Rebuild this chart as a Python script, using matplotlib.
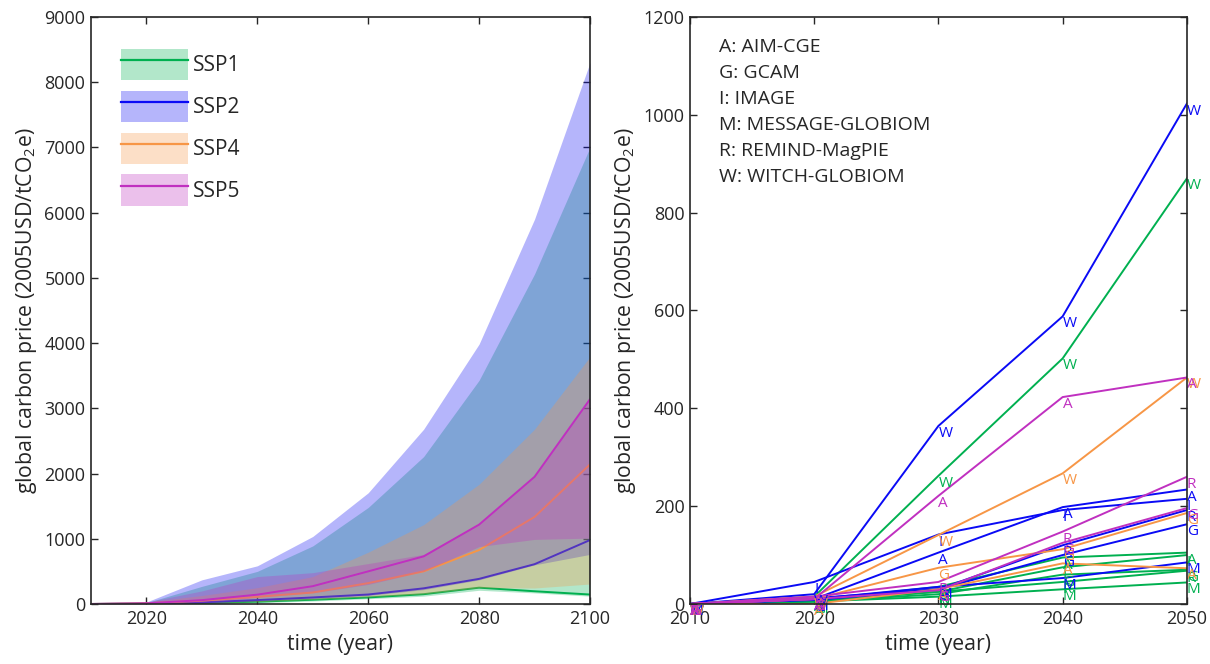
import matplotlib
matplotlib.use('Agg')
import matplotlib.pyplot as plt
from matplotlib.patches import Patch
from matplotlib.lines import Line2D

plt.rcParams['font.family'] = ['Open Sans', 'DejaVu Sans']
plt.rcParams['mathtext.fontset'] = 'custom'
plt.rcParams['mathtext.rm'] = 'Open Sans'
plt.rcParams['mathtext.it'] = 'Open Sans'

# ---- left panel: ranges and medians per SSP ----
years = [2010, 2020, 2030, 2040, 2050, 2060, 2070, 2080, 2090, 2100]

ssp1_med = [0, 5, 15, 35, 65, 100, 150, 250, 195, 145]
ssp1_lo = [0, 2, 8, 20, 45, 80, 120, 210, 170, 120]
ssp1_hi = [0, 20, 270, 500, 890, 1480, 2260, 3430, 5060, 7000]

ssp2_med = [0, 5, 25, 60, 100, 145, 240, 385, 610, 980]
ssp2_lo = [0, 3, 20, 50, 85, 130, 220, 370, 600, 760]
ssp2_hi = [0, 30, 370, 585, 1035, 1705, 2680, 3985, 5900, 8300]

ssp4_med = [0, 10, 50, 110, 176, 320, 500, 827, 1335, 2140]
ssp4_lo = [0, 3, 15, 35, 70, 110, 155, 250, 245, 306]
ssp4_hi = [0, 30, 130, 250, 420, 794, 1217, 1836, 2680, 3790]

ssp5_med = [0, 10, 59, 143, 273, 500, 730, 1217, 1950, 3140]
ssp5_lo = [0, 5, 30, 100, 170, 300, 500, 880, 990, 1010]
ssp5_hi = [0, 30, 200, 420, 480, 620, 760, 1230, 1960, 3150]

ssp_names = ['SSP1', 'SSP2', 'SSP4', 'SSP5']
colors = ['#00b050', '#0a0af5', '#f79646', '#c030c0']

# ---- right panel: individual models (2010-2050) ----
years_r = [2010, 2020, 2030, 2040, 2050]

r_ssp1 = {'W': [0, 15, 262, 502, 870],
          'A': [0, 8, 35, 95, 105],
          'I': [0, 5, 25, 75, 100],
          'G': [0, 5, 20, 60, 70],
          'M': [0, 5, 15, 30, 44],
          'R': [0, 8, 25, 45, 68]}
r_ssp2 = {'W': [0, 20, 364, 588, 1023],
          'A': [0, 10, 105, 198, 234],
          'I': [0, 45, 142, 192, 215],
          'G': [0, 8, 30, 100, 163],
          'M': [0, 10, 35, 53, 85],
          'R': [0, 12, 30, 120, 192]}
r_ssp4 = {'W': [0, 15, 141, 267, 463],
          'G': [0, 10, 74, 112, 186],
          'A': [0, 0, 30, 83, 73]}
r_ssp5 = {'A': [0, 10, 221, 423, 463],
          'R': [0, 15, 45, 148, 260],
          'G': [0, 10, 28, 125, 196]}

model_names = ['A: AIM-CGE', 'G: GCAM', 'I: IMAGE', 'M: MESSAGE-GLOBIOM',
               'R: REMIND-MagPIE', 'W: WITCH-GLOBIOM']

txt = '#262626'
ylab = 'global carbon price (2005USD/tCO$_2$e)'

fig = plt.figure(figsize=(12.1, 6.64), dpi=100)
ax1 = fig.add_axes([0.0752, 0.0904, 0.4124, 0.884])
ax2 = fig.add_axes([0.5702, 0.0904, 0.4107, 0.884])

meds = [ssp1_med, ssp2_med, ssp4_med, ssp5_med]
los = [ssp1_lo, ssp2_lo, ssp4_lo, ssp5_lo]
his = [ssp1_hi, ssp2_hi, ssp4_hi, ssp5_hi]
handles = []
z = 1
for name, c, med, lo, hi in zip(ssp_names, colors, meds, los, his):
    # median line first, then the semi-transparent range on top of it
    ax1.plot(years, med, color=c, lw=1.4, zorder=z)
    ax1.fill_between(years, lo, hi, color=c, alpha=0.3, linewidth=0, zorder=z + 1)
    z += 2
    handles.append((Patch(facecolor=c, alpha=0.3, edgecolor='none'),
                    Line2D([], [], color=c, lw=1.6)))

ax1.set_xlim(2010, 2100)
ax1.set_ylim(0, 9000)
ax1.set_xticks(range(2020, 2101, 20))
ax1.set_yticks(range(0, 9001, 1000))
leg = ax1.legend(handles, ssp_names, loc='upper left', bbox_to_anchor=(0.060, 0.946),
                 frameon=False, fontsize=15, handlelength=3.2, handleheight=1.95,
                 labelspacing=0.5, handletextpad=0.25, borderpad=0,
                 borderaxespad=0, labelcolor=txt)
leg.set_zorder(20)

for ssp, c in zip([r_ssp1, r_ssp2, r_ssp4, r_ssp5], colors):
    for letter, vals in ssp.items():
        ax2.plot(years_r, vals, color=c, lw=1.4)
        for x, y in zip(years_r, vals):
            ax2.text(x, y, letter, color=c, fontsize=11, ha='left', va='top')

ax2.set_xlim(2010, 2050)
ax2.set_ylim(0, 1200)
ax2.set_xticks(years_r)
ax2.set_yticks(range(0, 1201, 200))
ax2.text(0.058, 0.965, '\n'.join(model_names), transform=ax2.transAxes,
         fontsize=14, color=txt, va='top', ha='left', linespacing=1.58)

for ax in (ax1, ax2):
    ax.set_xlabel('time (year)', fontsize=15.3, color=txt, labelpad=5)
    ax.set_ylabel(ylab, fontsize=15.3, color=txt, labelpad=4)
    ax.tick_params(direction='in', length=5, width=1, top=True, right=True,
                   labelsize=13, colors=txt, pad=4)
    for s in ax.spines.values():
        s.set_color(txt)
        s.set_linewidth(1.2)
        s.set_zorder(30)

fig.savefig('out.png', dpi=100)
